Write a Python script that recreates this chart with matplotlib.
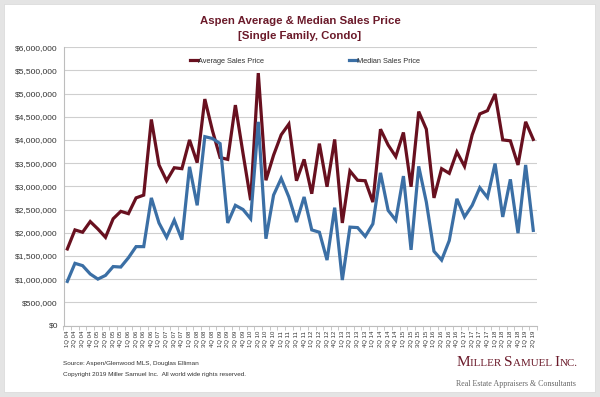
import matplotlib
matplotlib.use("Agg")
import matplotlib.pyplot as plt
from matplotlib.patches import Rectangle
from matplotlib.ticker import FuncFormatter, MultipleLocator, FixedLocator

plt.rcParams['font.family'] = ['Liberation Sans', 'DejaVu Sans']

quarters = [f"{q}Q {y:02d}" for y in range(4, 20) for q in range(1, 5)][:62]

avg_price = [1.65, 2.06, 2.01, 2.24, 2.08, 1.90, 2.30, 2.46, 2.41, 2.75, 2.81, 4.44,
             3.46, 3.12, 3.40, 3.38, 4.00, 3.51, 4.88, 4.20, 3.62, 3.58, 4.75, 3.71,
             2.70, 5.44, 3.13, 3.67, 4.11, 4.34, 3.12, 3.58, 2.84, 3.92, 2.99, 4.01,
             2.21, 3.33, 3.13, 3.12, 2.66, 4.23, 3.89, 3.64, 4.16, 2.99, 4.61, 4.23,
             2.75, 3.38, 3.28, 3.74, 3.43, 4.11, 4.56, 4.63, 4.99, 4.00, 3.98, 3.46,
             4.39, 4.01]
median_price = [0.95, 1.34, 1.29, 1.11, 1.00, 1.08, 1.27, 1.26, 1.46, 1.70, 1.70, 2.75,
                2.21, 1.90, 2.27, 1.85, 3.42, 2.59, 4.07, 4.03, 3.92, 2.21, 2.59, 2.50,
                2.30, 4.39, 1.87, 2.81, 3.17, 2.77, 2.23, 2.77, 2.06, 2.01, 1.41, 2.54,
                0.98, 2.12, 2.11, 1.92, 2.19, 3.29, 2.48, 2.27, 3.22, 1.63, 3.43, 2.66,
                1.60, 1.41, 1.83, 2.73, 2.34, 2.59, 2.97, 2.76, 3.49, 2.34, 3.15, 1.99,
                3.46, 2.05]
avg_price = [v * 1e6 for v in avg_price]
median_price = [v * 1e6 for v in median_price]

AVG_COLOR = '#68101f'
MED_COLOR = '#3b6fa5'
TITLE_COLOR = '#6b1a2a'

W, H = 600, 397
fig = plt.figure(figsize=(6, 3.97), dpi=100)
fig.patch.set_facecolor('#e4e4e4')
fig.add_artist(Rectangle((4 / W, 5 / H), 591 / W, 388 / H, transform=fig.transFigure,
                         facecolor='white', edgecolor='#d8d8d8', lw=0.5, zorder=0))

ax = fig.add_axes([63.5 / W, 71.5 / H, (537.1 - 63.5) / W, (325.5 - 47.1) / H])
ax.set_facecolor('none')
x = list(range(len(quarters)))
ax.plot(x, avg_price, color=AVG_COLOR, lw=2.3, label='Average Sales Price', solid_joinstyle='miter')
ax.plot(x, median_price, color=MED_COLOR, lw=2.3, label='Median Sales Price', solid_joinstyle='miter')

ax.set_xlim(-0.5, len(quarters) - 0.5)
ax.set_ylim(0, 6e6)
ax.yaxis.set_major_locator(MultipleLocator(5e5))
ax.yaxis.set_major_formatter(FuncFormatter(lambda v, p: f"${v:,.0f}"))
ax.grid(axis='y', color='#cfcfcf', lw=0.8)
ax.set_axisbelow(True)
for s in ['top', 'right']:
    ax.spines[s].set_visible(False)
ax.spines['left'].set_color('#bdbdbd')
ax.spines['left'].set_linewidth(0.8)
ax.spines['bottom'].set_color('#bdbdbd')
ax.spines['bottom'].set_linewidth(0.8)
ax.tick_params(axis='y', length=0, labelsize=6, labelcolor='#333333', pad=4)
ax.set_xticks(x)
ax.set_xticklabels(quarters, rotation=90, fontsize=4.3, color='#333333')
ax.tick_params(axis='x', which='major', length=0, pad=4)
ax.xaxis.set_minor_locator(FixedLocator([i - 0.5 for i in range(len(quarters) + 1)]))
ax.tick_params(axis='x', which='minor', length=3, color='#bdbdbd', width=0.6)

leg = ax.legend(loc='upper center', bbox_to_anchor=(0.51, 0.985), ncol=2, frameon=False,
                fontsize=5.3, handlelength=1.1, handletextpad=0.0, columnspacing=11.5)
for t in leg.get_texts():
    t.set_color('#333333')

fig.text(0.5, 1 - 21 / H, 'Aspen Average & Median Sales Price', ha='center', va='center',
         fontsize=8.2, fontweight='bold', color=TITLE_COLOR)
fig.text(0.5, 1 - 36 / H, '[Single Family, Condo]', ha='center', va='center',
         fontsize=8.2, fontweight='bold', color=TITLE_COLOR)

fig.text(63 / W, 1 - 363.5 / H, 'Source: Aspen/Glenwood MLS, Douglas Elliman', ha='left', va='center',
         fontsize=4.6, color='#333333')
fig.text(63 / W, 1 - 374.5 / H, 'Copyright 2019 Miller Samuel Inc.  All world wide rights reserved.',
         ha='left', va='center', fontsize=4.6, color='#333333')

# Logo in small caps
fig.canvas.draw()
renderer = fig.canvas.get_renderer()
pieces = [("M", 11.0), ("ILLER ", 7.9), ("S", 11.0), ("AMUEL ", 7.9), ("I", 11.0), ("NC.", 7.9)]
xpos = 456.5
for txt, fs in pieces:
    t = fig.text(xpos / W, 1 - 366.5 / H, txt, ha='left', va='baseline', fontsize=fs,
                 family=['Liberation Serif', 'DejaVu Serif'], color=TITLE_COLOR)
    bb = t.get_window_extent(renderer)
    xpos += bb.width
fig.text(456.5 / W, 1 - 385.5 / H, 'Real Estate Appraisers & Consultants', ha='left', va='baseline',
         fontsize=5.65, family=['Liberation Serif', 'DejaVu Serif'], color='#666666')

fig.savefig('out.png', dpi=100, facecolor=fig.get_facecolor())
